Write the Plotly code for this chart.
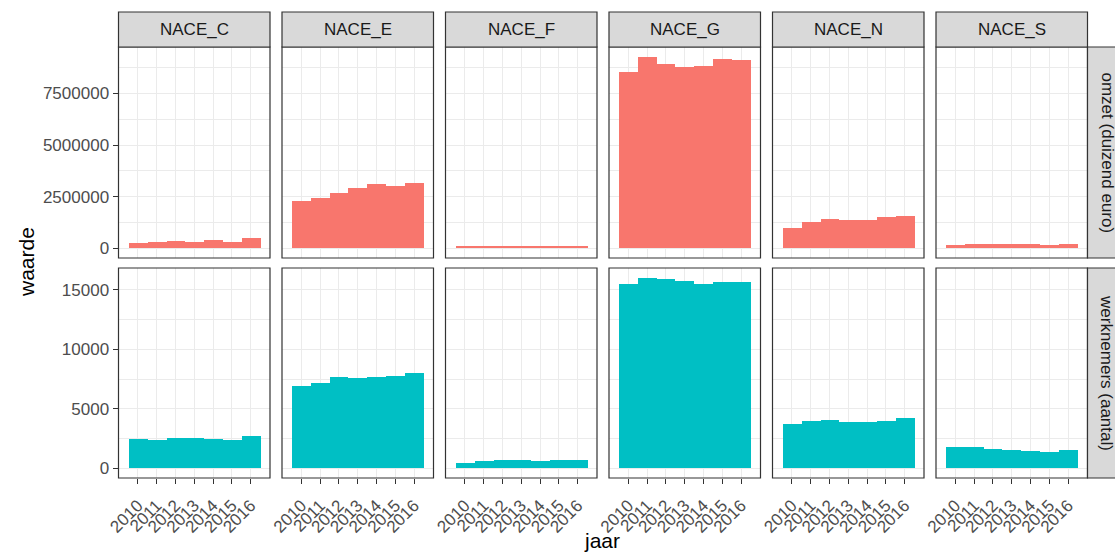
import plotly.graph_objects as go

# ---------------- data ----------------
years = [2010, 2011, 2012, 2013, 2014, 2015, 2016]
sectors = ["NACE_C", "NACE_E", "NACE_F", "NACE_G", "NACE_N", "NACE_S"]
measures = ["omzet (duizend euro)", "werknemers (aantal)"]

omzet_C = [243000, 325000, 357000, 292000, 390000, 308000, 520000]
omzet_E = [2290000, 2420000, 2660000, 2900000, 3120000, 3000000, 3150000]
omzet_F = [105000, 115000, 125000, 135000, 140000, 135000, 140000]
omzet_G = [8520000, 9280000, 8900000, 8760000, 8840000, 9150000, 9100000]
omzet_N = [1000000, 1280000, 1430000, 1360000, 1380000, 1540000, 1570000]
omzet_S = [180000, 190000, 195000, 195000, 205000, 170000, 200000]

werk_C = [2450, 2400, 2540, 2540, 2480, 2400, 2760]
werk_E = [6900, 7140, 7670, 7560, 7700, 7730, 7980]
werk_F = [500, 590, 700, 680, 590, 680, 730]
werk_G = [15510, 16020, 15930, 15740, 15510, 15620, 15680]
werk_N = [3770, 3960, 4100, 3900, 3900, 4020, 4270]
werk_S = [1770, 1770, 1660, 1520, 1430, 1350, 1520]

omzet_ticks = [0, 2500000, 5000000, 7500000]
omzet_minor = [1250000, 3750000, 6250000, 8750000]
werk_ticks = [0, 5000, 10000, 15000]
werk_minor = [2500, 7500, 12500]

rows = [
    [omzet_C, omzet_E, omzet_F, omzet_G, omzet_N, omzet_S],
    [werk_C, werk_E, werk_F, werk_G, werk_N, werk_S],
]
row_ticks = [omzet_ticks, werk_ticks]
row_minor = [omzet_minor, werk_minor]
colors = ["#F8766D", "#00BFC4"]

# ---------------- layout geometry (pixels) ----------------
W, H = 1115, 555
panel_x0, panel_step, panel_w = 118.5, 163.5, 151.5
row_y = [(47, 258), (268, 478)]  # top, bottom in px from top
strip_top = 12
strip_right_w = 35

FONT = "Liberation Sans, Arial, sans-serif"
TICKC = "#4D4D4D"
GRID = "#EBEBEB"
BORDER = "#333333"

def px_x(x):
    return x / W

def px_y(y):
    return 1 - y / H

fig = go.Figure()
layout = dict(
    width=W, height=H, autosize=False,
    margin=dict(l=0, r=0, t=0, b=0, pad=0, autoexpand=False),
    paper_bgcolor="white", plot_bgcolor="white",
    showlegend=False, bargap=0,
    font=dict(family=FONT, size=17, color=TICKC),
)
shapes = []
annotations = []

xmin, xmax = years[0] - 1.03, years[-1] + 1.03

for r in range(2):
    vmax = max(max(s) for s in rows[r])
    yrange = [-0.05 * vmax, 1.05 * vmax]
    ytop, ybot = row_y[r]
    for c in range(6):
        k = r * 6 + c + 1
        xa = "x" if k == 1 else f"x{k}"
        ya = "y" if k == 1 else f"y{k}"
        xkey = "xaxis" if k == 1 else f"xaxis{k}"
        ykey = "yaxis" if k == 1 else f"yaxis{k}"
        x0 = panel_x0 + c * panel_step
        x1 = x0 + panel_w

        fig.add_trace(go.Bar(
            x=years, y=rows[r][c], width=1.0,
            marker=dict(color=colors[r], line=dict(width=0)),
            xaxis=xa, yaxis=ya, hoverinfo="x+y",
        ))

        bottom = (r == 1)
        left = (c == 0)
        layout[xkey] = dict(
            domain=[px_x(x0), px_x(x1)], anchor=ya, range=[xmin, xmax],
            tickmode="array", tickvals=years, ticktext=[str(y) for y in years],
            showticklabels=bottom, ticks="outside" if bottom else "",
            ticklen=5, tickwidth=1.1, tickcolor=BORDER, tickangle=-45,
            ticklabelstandoff=5,
            tickfont=dict(family=FONT, size=17, color=TICKC),
            showgrid=True, gridcolor=GRID, gridwidth=1.1,
            zeroline=False, showline=False, fixedrange=True, automargin=False,
        )
        layout[ykey] = dict(
            domain=[px_y(ybot), px_y(ytop)], anchor=xa, range=yrange,
            tickmode="array", tickvals=row_ticks[r],
            ticktext=[str(v) for v in row_ticks[r]],
            showticklabels=left, ticks="outside" if left else "",
            ticklen=5, tickwidth=1.1, tickcolor=BORDER,
            tickfont=dict(family=FONT, size=17, color=TICKC),
            showgrid=True, gridcolor=GRID, gridwidth=1.1,
            minor=dict(tickvals=row_minor[r], showgrid=True,
                       gridcolor=GRID, gridwidth=0.6),
            zeroline=False, showline=False, fixedrange=True, automargin=False,
        )

        # panel border
        shapes.append(dict(type="rect", xref="paper", yref="paper",
                           x0=px_x(x0), x1=px_x(x1), y0=px_y(ybot), y1=px_y(ytop),
                           line=dict(color=BORDER, width=1.2), fillcolor="rgba(0,0,0,0)",
                           layer="above"))

        # top strips
        if r == 0:
            shapes.append(dict(type="rect", xref="paper", yref="paper",
                               x0=px_x(x0), x1=px_x(x1), y0=px_y(ytop), y1=px_y(strip_top),
                               line=dict(color=BORDER, width=1.2), fillcolor="#D9D9D9",
                               layer="above"))
            annotations.append(dict(xref="paper", yref="paper",
                                    x=px_x((x0 + x1) / 2), y=px_y((strip_top + ytop) / 2),
                                    text=sectors[c], showarrow=False,
                                    xanchor="center", yanchor="middle",
                                    font=dict(family=FONT, size=17, color="#1A1A1A")))
        # right strips
        if c == 5:
            sx0 = x1
            sx1 = x1 + strip_right_w
            shapes.append(dict(type="rect", xref="paper", yref="paper",
                               x0=px_x(sx0), x1=px_x(sx1), y0=px_y(ybot), y1=px_y(ytop),
                               line=dict(color=BORDER, width=1.2), fillcolor="#D9D9D9",
                               layer="above"))
            annotations.append(dict(xref="paper", yref="paper",
                                    x=px_x((sx0 + sx1) / 2 + 2), y=px_y((ytop + ybot) / 2),
                                    text=measures[r], showarrow=False, textangle=90,
                                    xanchor="center", yanchor="middle",
                                    font=dict(family=FONT, size=17, color="#1A1A1A")))

# axis titles
annotations.append(dict(xref="paper", yref="paper", x=px_x(602), y=px_y(540),
                        text="jaar", showarrow=False, xanchor="center", yanchor="middle",
                        font=dict(family=FONT, size=21, color="black")))
annotations.append(dict(xref="paper", yref="paper", x=px_x(26), y=px_y(262),
                        text="waarde", showarrow=False, textangle=-90,
                        xanchor="center", yanchor="middle",
                        font=dict(family=FONT, size=21, color="black")))

layout["shapes"] = shapes
layout["annotations"] = annotations
fig.update_layout(**layout)

fig.write_html("out.html")
